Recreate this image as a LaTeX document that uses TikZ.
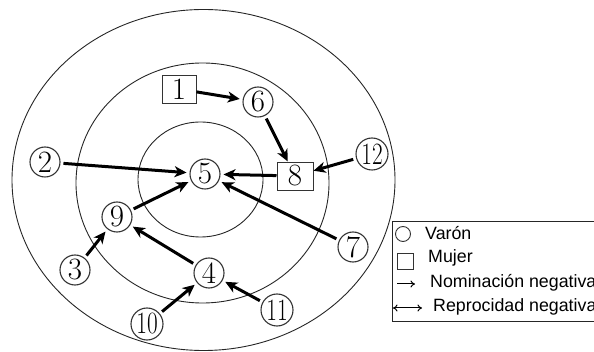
\documentclass[tikz,border=0pt]{standalone}
\usepackage{fontspec}
\newfontfamily\legfont{Liberation Sans}
\usetikzlibrary{arrows.meta}
\begin{document}
\begin{tikzpicture}[x=1pt,y=-1pt,
 person/.style={circle, draw=black!80, line width=1.1pt, minimum size=30pt, inner sep=0pt, outer sep=3.5pt, font=\fontsize{31}{31}\selectfont},
 woman/.style={rectangle, draw=black!80, line width=0.9pt, minimum width=34pt, minimum height=28pt, inner sep=0pt, outer sep=0.5pt, font=\fontsize{31}{31}\selectfont},
 nom/.style={-{Stealth[length=12pt,width=11pt,inset=3.5pt]}, line width=3pt},
 ring/.style={draw=black!85, line width=0.9pt},
 legtext/.style={anchor=base west, font=\legfont\fontsize{17.8}{19}\selectfont, inner sep=0pt},
 legsym/.style={draw=black!80, line width=0.9pt}]
\path[use as bounding box, clip] (0,0) rectangle (594,352);
% rings
\draw[ring] (203.5,180) ellipse [x radius=191.5, y radius=170.5];
\draw[ring] (202.5,183) ellipse [x radius=126.5, y radius=120];
\draw[ring] (200.5,179.5) ellipse [x radius=62.5, y radius=57.5];
% nodes
\node[woman] (n1) at (179,89) {1};
\node[person] (n6) at (258,102) {6};
\node[person] (n2) at (45,162) {2};
\node[person] (n5) at (205,174) {5};
\node[woman, minimum width=36pt] (n8) at (295,176) {8};
\node[person, minimum size=32pt] (n12) at (372,154) {\scalebox{0.75}[1]{12}};
\node[person] (n9) at (117,217) {9};
\node[person] (n3) at (75,270) {3};
\node[person] (n4) at (209,273) {4};
\node[person, minimum size=32pt] (n10) at (147,324) {\scalebox{0.75}[1]{10}};
\node[person, minimum size=32pt] (n11) at (277,310) {\scalebox{0.75}[1]{11}};
\node[person] (n7) at (353,247) {7};
% nominations
\draw[nom] (n1) -- (n6);
\draw[nom] (n6) -- (n8);
\draw[nom] (n2) -- (n5);
\draw[nom] (n8) -- (n5);
\draw[nom] (n12) -- (n8);
\draw[nom] (n9) -- (n5);
\draw[nom] (n4) -- (n9);
\draw[nom] (n3) -- (n9);
\draw[nom] (n10) -- (n4);
\draw[nom] (n11) -- (n4);
\draw[nom] (n7) -- (n5);
% legend
\draw[line width=1pt, draw=black!85] (392,222) rectangle (640,322);
\node[legsym, circle, minimum size=15pt, inner sep=0pt] (lc) at (403,234) {};
\node[legsym, rectangle, minimum size=16pt, inner sep=0pt] (ls) at (405,261) {};
\coordinate (la1) at (397,284);
\coordinate (la2) at (415,284);
\coordinate (lb1) at (393,308);
\coordinate (lb2) at (422,308);
\draw[line width=1pt, -{To[length=4.5pt,width=7pt]}] (la1) -- (la2);
\draw[line width=1pt, {To[length=4.5pt,width=7pt]}-{To[length=4.5pt,width=7pt]}] (lb1) -- (lb2);
\node[legtext] (tv) at (425,240) {Varón};
\node[legtext] (tm) at (428,263) {Mujer};
\node[legtext] (tn) at (430,288) {Nominación negativa};
\node[legtext] (tr) at (433,312) {Reprocidad negativa};
\end{tikzpicture}
\end{document}
